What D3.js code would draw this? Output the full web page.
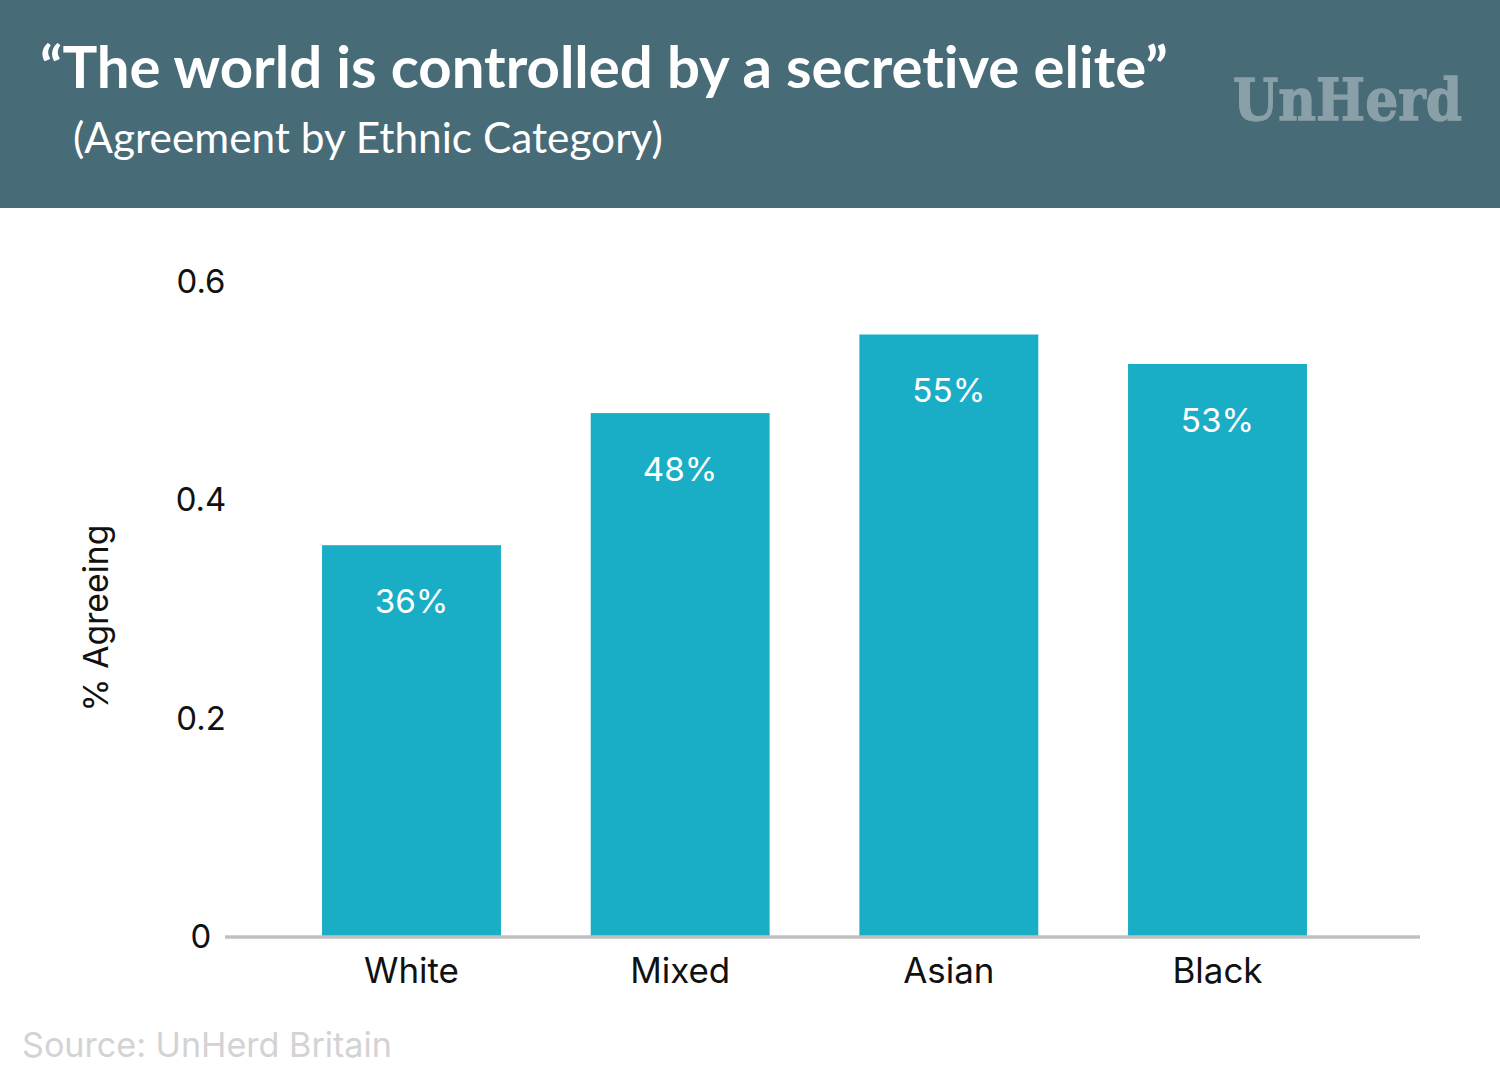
<!DOCTYPE html>
<html>
<head>
<meta charset="utf-8">
<script src="https://cdn.jsdelivr.net/npm/d3@7"></script>
<style>
  html, body { margin: 0; padding: 0; background: #ffffff; }
  svg { display: block; }
  text { font-family: Inter, Lato, "Open Sans", sans-serif;
         font-variant-ligatures: none; font-feature-settings: "liga" 0, "clig" 0, "dlig" 0; }
</style>
</head>
<body>
<svg id="chart" width="1500" height="1080"></svg>
<script>
// ---- data ----
const categories = ["White", "Mixed", "Asian", "Black"];
const values = [0.358, 0.479, 0.551, 0.524];
const valueLabels = ["36%", "48%", "55%", "53%"];
const yTicks = [0, 0.2, 0.4, 0.6];
const yTickLabels = ["0", "0.2", "0.4", "0.6"];
const titleText = "\u201CThe world is controlled by a secretive elite\u201D";
const subtitleText = "(Agreement by Ethnic Category)";
const yAxisTitle = "% Agreeing";
const sourceText = "Source: UnHerd Britain";
const logoText = "UnHerd";

// ---- layout ----
const W = 1500, H = 1080;
const svg = d3.select("#chart");

function fit(sel, targetWidth) {
  const node = sel.node();
  const w = node.getComputedTextLength();
  const fs = parseFloat(sel.attr("font-size"));
  if (w > 0) sel.attr("font-size", (fs * targetWidth / w).toFixed(2));
  return sel;
}
function sizeFor(sample, baseSize, targetWidth, weight) {
  const t = svg.append("text").attr("font-size", baseSize)
    .attr("font-weight", weight || 400).text(sample);
  const w = t.node().getComputedTextLength();
  t.remove();
  return baseSize * targetWidth / w;
}

// header band
svg.append("rect").attr("x", 0).attr("y", 0).attr("width", W).attr("height", 208)
  .attr("fill", "#476b77");

fit(svg.append("text").attr("x", 40).attr("y", 88)
  .attr("font-size", 50).attr("font-weight", 700).attr("fill", "#ffffff")
  .style("font-family", "Lato, Inter, sans-serif")
  .text(titleText), 1128);

fit(svg.append("text").attr("x", 73).attr("y", 153)
  .attr("font-size", 36).attr("fill", "#ffffff")
  .style("font-family", "Lato, Inter, sans-serif")
  .text(subtitleText), 590);

const logo = svg.append("text").attr("x", 0).attr("y", 0)
  .attr("font-size", 62).attr("font-weight", 700)
  .style("font-family", "'DejaVu Serif', 'Liberation Serif', serif")
  .attr("fill", "#8aa0a8").attr("stroke", "#8aa0a8").attr("stroke-width", 1.2)
  .text(logoText);
fit(logo, 229);
logo.attr("transform", "translate(1233,120) scale(1,1.1)");

// scales
const x = d3.scaleBand().domain(categories).range([232.3, 1396.7])
  .paddingInner(0.334).paddingOuter(0.334);
const y = d3.scaleLinear().domain([0, 0.6]).range([936, 281]);

// bars
svg.append("g").selectAll("rect").data(categories).join("rect")
  .attr("x", d => x(d))
  .attr("y", (d, i) => y(values[i]))
  .attr("width", x.bandwidth())
  .attr("height", (d, i) => y(0) - y(values[i]))
  .attr("fill", "#1aaec6");

// value labels
const valSize = sizeFor("55%", 32, 73);
svg.append("g").selectAll("text").data(categories).join("text")
  .attr("x", d => x(d) + x.bandwidth() / 2)
  .attr("y", (d, i) => y(values[i]) + 68)
  .attr("text-anchor", "middle")
  .attr("font-size", valSize)
  .attr("fill", "#ffffff")
  .text((d, i) => valueLabels[i]);

// x axis baseline
svg.append("line").attr("x1", 225).attr("x2", 1420)
  .attr("y1", y(0) + 1).attr("y2", y(0) + 1)
  .attr("stroke", "#c0c0c0").attr("stroke-width", 3.5);

// category labels
const catSize = sizeFor("White", 32, 95);
svg.append("g").selectAll("text").data(categories).join("text")
  .attr("x", d => x(d) + x.bandwidth() / 2)
  .attr("y", 983)
  .attr("text-anchor", "middle")
  .attr("font-size", catSize)
  .attr("fill", "#111111")
  .text(d => d);

// y tick labels
const tickSize = sizeFor("0.6", 32, 49);
svg.append("g").selectAll("text").data(yTicks).join("text")
  .attr("x", 201)
  .attr("y", d => y(d) + 12)
  .attr("text-anchor", "middle")
  .attr("font-size", tickSize)
  .attr("fill", "#111111")
  .text((d, i) => yTickLabels[i]);

// y axis title
const yt = svg.append("text")
  .attr("transform", "translate(108,618) rotate(-90)")
  .attr("text-anchor", "middle")
  .attr("font-size", 32)
  .attr("fill", "#111111")
  .text(yAxisTitle);
fit(yt, 187);

// source
fit(svg.append("text").attr("x", 22).attr("y", 1057)
  .attr("font-size", 32).attr("fill", "#d3d3d3")
  .text(sourceText), 370);
</script>
</body>
</html>
